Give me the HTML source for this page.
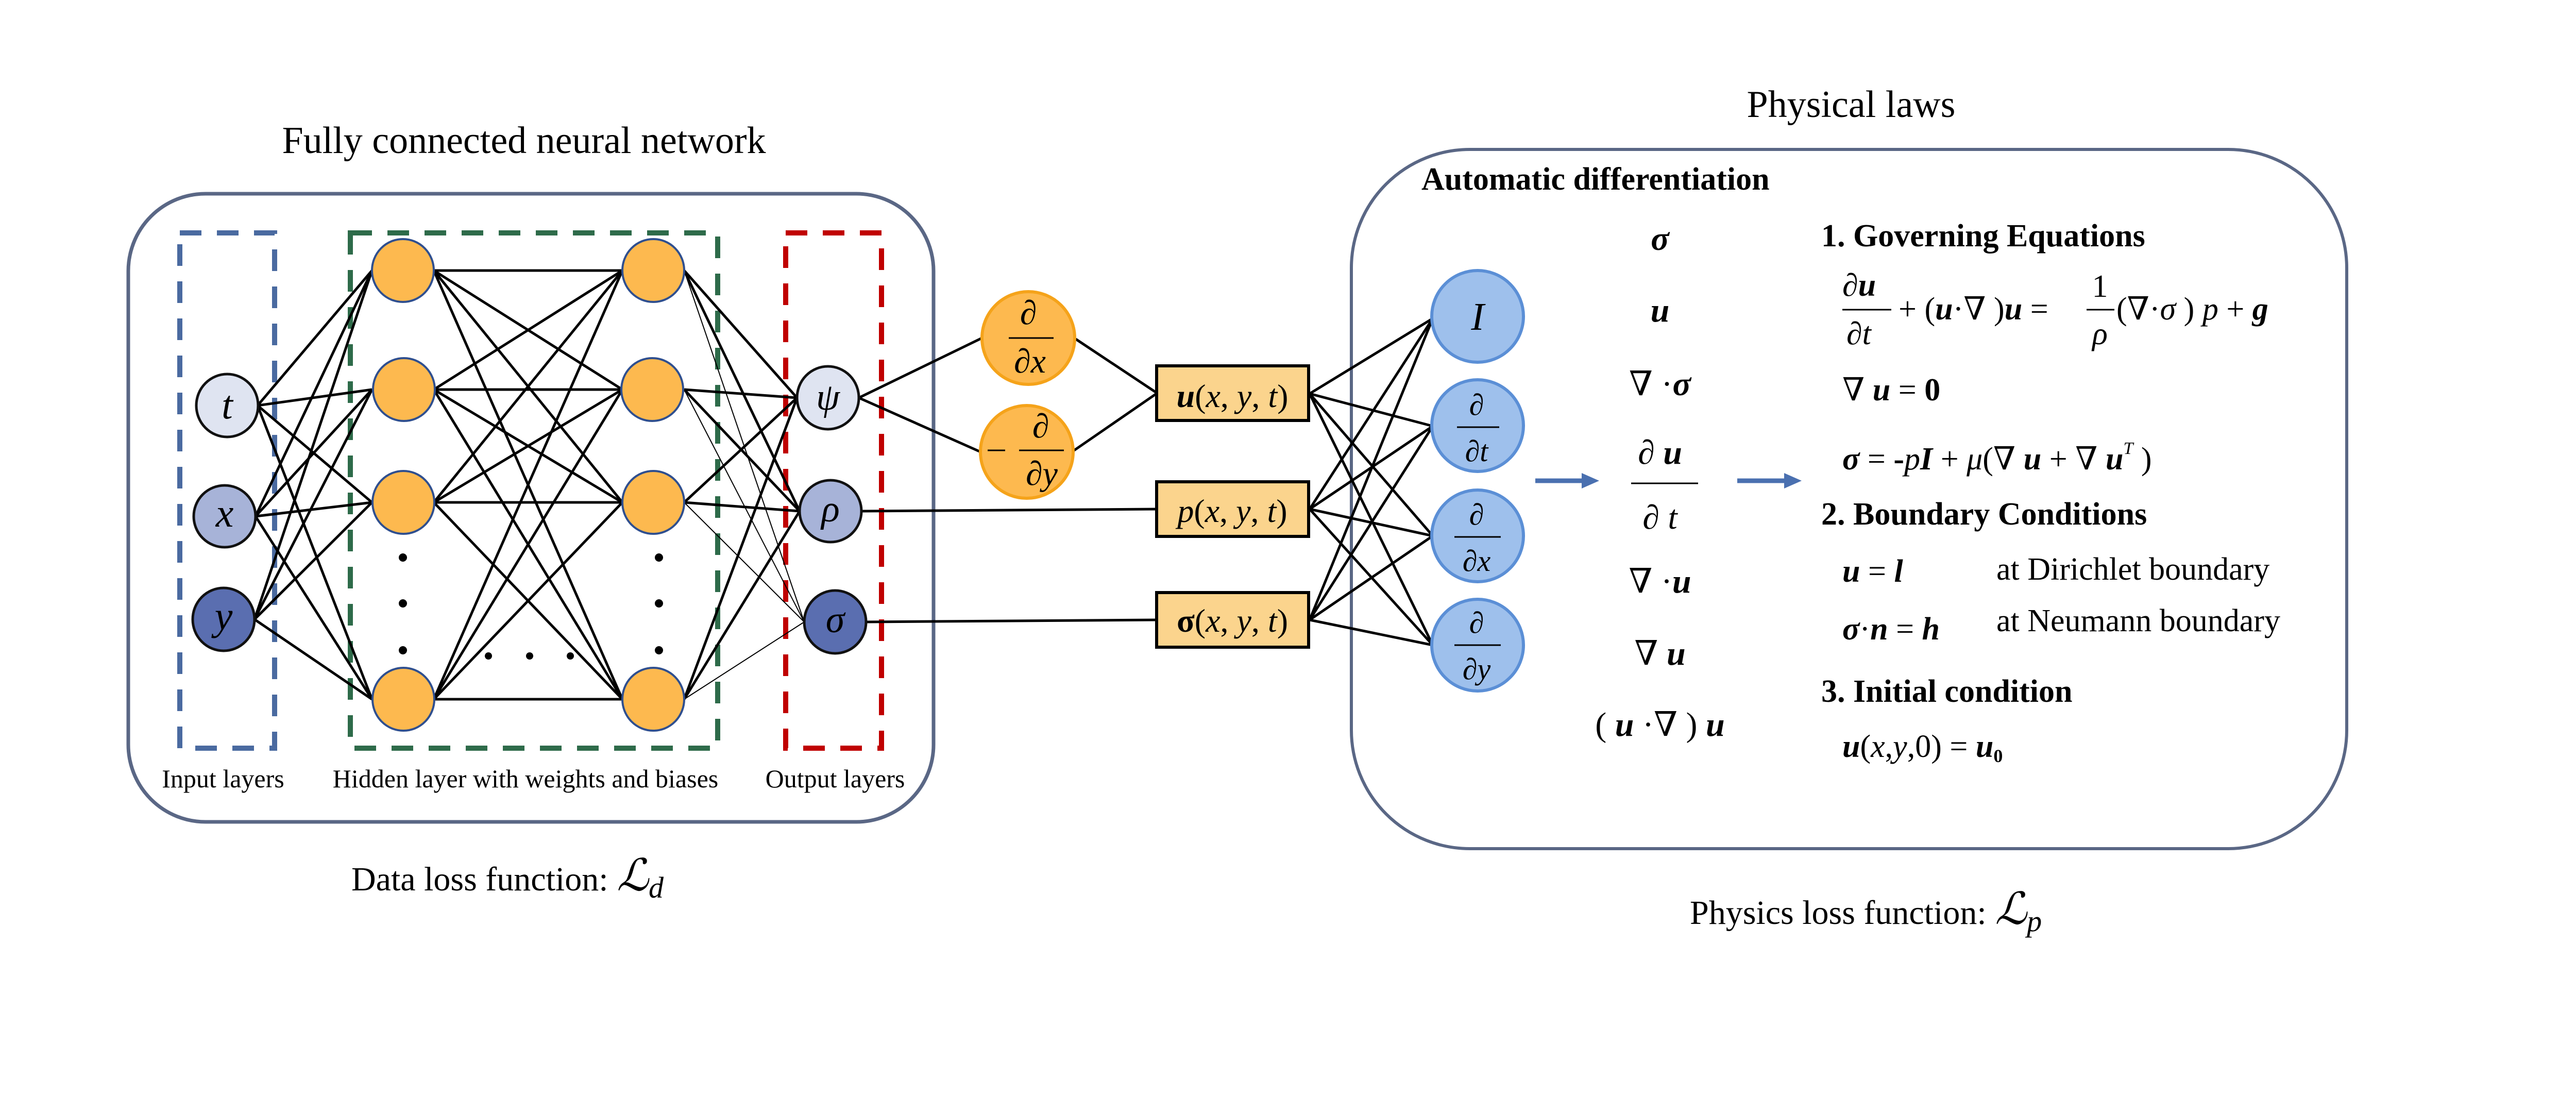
<!DOCTYPE html>
<html><head><meta charset="utf-8">
<style>
html,body{margin:0;padding:0;background:#fff;}
svg{display:block;}
text{font-family:"Liberation Serif","DejaVu Serif",serif;fill:#000;}
.it{font-style:italic;}
.b{font-weight:bold;}
.bi{font-weight:bold;font-style:italic;}
</style></head>
<body>
<svg width="5102" height="2160" viewBox="0 0 5102 2160" xmlns="http://www.w3.org/2000/svg">
<rect width="5102" height="2160" fill="#fff"/>

<!-- Titles -->
<text x="1017" y="297" font-size="74" text-anchor="middle">Fully connected neural network</text>
<text x="3593" y="227" font-size="74" text-anchor="middle">Physical laws</text>

<!-- Left box -->
<rect x="249" y="376" width="1563" height="1219" rx="150" ry="150" fill="none" stroke="#5a6785" stroke-width="7"/>
<!-- Right box -->
<rect x="2623" y="290" width="1932" height="1357" rx="230" ry="230" fill="none" stroke="#5a6785" stroke-width="6"/>

<!-- dashed boxes -->
<rect x="349" y="452" width="184" height="1000" fill="none" stroke="#4a6aa0" stroke-width="10" stroke-dasharray="42,30"/>
<rect x="680" y="452" width="713" height="1000" fill="none" stroke="#2e6b4a" stroke-width="10" stroke-dasharray="42,30"/>
<rect x="1525" y="452" width="186" height="1000" fill="none" stroke="#c00000" stroke-width="10" stroke-dasharray="42,30"/>

<!-- connections input -> hidden1 -->
<g stroke="#000" stroke-width="5">
<line x1="500" y1="787" x2="722" y2="525"/><line x1="500" y1="787" x2="722" y2="756"/><line x1="500" y1="787" x2="722" y2="975"/><line x1="500" y1="787" x2="722" y2="1357"/>
<line x1="496" y1="1002" x2="722" y2="525"/><line x1="496" y1="1002" x2="722" y2="756"/><line x1="496" y1="1002" x2="722" y2="975"/><line x1="496" y1="1002" x2="722" y2="1357"/>
<line x1="494" y1="1202" x2="722" y2="525"/><line x1="494" y1="1202" x2="722" y2="756"/><line x1="494" y1="1202" x2="722" y2="975"/><line x1="494" y1="1202" x2="722" y2="1357"/>
<!-- hidden1 -> hidden2 -->
<line x1="842" y1="525" x2="1208" y2="525"/><line x1="842" y1="525" x2="1208" y2="756"/><line x1="842" y1="525" x2="1208" y2="975"/><line x1="842" y1="525" x2="1208" y2="1357"/>
<line x1="842" y1="756" x2="1208" y2="525"/><line x1="842" y1="756" x2="1208" y2="756"/><line x1="842" y1="756" x2="1208" y2="975"/><line x1="842" y1="756" x2="1208" y2="1357"/>
<line x1="842" y1="975" x2="1208" y2="525"/><line x1="842" y1="975" x2="1208" y2="756"/><line x1="842" y1="975" x2="1208" y2="975"/><line x1="842" y1="975" x2="1208" y2="1357"/>
<line x1="842" y1="1357" x2="1208" y2="525"/><line x1="842" y1="1357" x2="1208" y2="756"/><line x1="842" y1="1357" x2="1208" y2="975"/><line x1="842" y1="1357" x2="1208" y2="1357"/>
<!-- hidden2 -> outputs -->
<line x1="1328" y1="525" x2="1547" y2="772"/><line x1="1328" y1="525" x2="1552" y2="992"/><line x1="1328" y1="525" x2="1561" y2="1207" stroke-width="2"/>
<line x1="1328" y1="756" x2="1547" y2="772"/><line x1="1328" y1="756" x2="1552" y2="992"/><line x1="1328" y1="756" x2="1561" y2="1207" stroke-width="2"/>
<line x1="1328" y1="975" x2="1547" y2="772"/><line x1="1328" y1="975" x2="1552" y2="992"/><line x1="1328" y1="975" x2="1561" y2="1207" stroke-width="2"/>
<line x1="1328" y1="1357" x2="1547" y2="772"/><line x1="1328" y1="1357" x2="1552" y2="992"/><line x1="1328" y1="1357" x2="1561" y2="1207" stroke-width="2"/>
<!-- outputs -> middle -->
<line x1="1667" y1="772" x2="1906" y2="656"/><line x1="1667" y1="772" x2="1901" y2="876"/>
<line x1="2088" y1="658" x2="2246" y2="763"/><line x1="2082" y1="876" x2="2246" y2="763"/>
<line x1="1672" y1="992" x2="2245" y2="988"/>
<line x1="1681" y1="1207" x2="2245" y2="1203"/>
<!-- boxes -> blue circles -->
<line x1="2542" y1="764" x2="2781" y2="618"/><line x1="2542" y1="764" x2="2781" y2="827"/><line x1="2542" y1="764" x2="2781" y2="1040"/><line x1="2542" y1="764" x2="2781" y2="1252"/>
<line x1="2542" y1="988" x2="2781" y2="618"/><line x1="2542" y1="988" x2="2781" y2="827"/><line x1="2542" y1="988" x2="2781" y2="1040"/><line x1="2542" y1="988" x2="2781" y2="1252"/>
<line x1="2542" y1="1203" x2="2781" y2="618"/><line x1="2542" y1="1203" x2="2781" y2="827"/><line x1="2542" y1="1203" x2="2781" y2="1040"/><line x1="2542" y1="1203" x2="2781" y2="1252"/>
</g>

<!-- input nodes -->
<g stroke="#111" stroke-width="5">
<ellipse cx="441" cy="787" rx="60" ry="61" fill="#dfe4f1"/>
<ellipse cx="436" cy="1002" rx="60" ry="60" fill="#a7b3d8"/>
<ellipse cx="434" cy="1202" rx="60" ry="61" fill="#5a6eb0"/>
<ellipse cx="1607" cy="772" rx="60" ry="61" fill="#dfe4f1"/>
<ellipse cx="1612" cy="992" rx="60" ry="60" fill="#a7b3d8"/>
<ellipse cx="1621" cy="1207" rx="60" ry="61" fill="#5a6eb0"/>
</g>
<text x="441" y="812" font-size="78" class="it" text-anchor="middle">t</text>
<text x="436" y="1022" font-size="78" class="it" text-anchor="middle">x</text>
<text x="434" y="1222" font-size="78" class="it" text-anchor="middle">y</text>
<text x="1607" y="795" font-size="74" class="it" text-anchor="middle">ψ</text>
<text x="1612" y="1012" font-size="74" class="it" text-anchor="middle">ρ</text>
<text x="1621" y="1227" font-size="74" class="it" text-anchor="middle">σ</text>

<!-- hidden nodes -->
<g fill="#fdb94f" stroke="#2f4f8f" stroke-width="4">
<ellipse cx="782" cy="525" rx="60" ry="61"/><ellipse cx="784" cy="756" rx="60" ry="61"/><ellipse cx="783" cy="975" rx="60" ry="61"/><ellipse cx="783" cy="1357" rx="60" ry="61"/>
<ellipse cx="1268" cy="525" rx="60" ry="61"/><ellipse cx="1266" cy="756" rx="60" ry="61"/><ellipse cx="1268" cy="975" rx="60" ry="61"/><ellipse cx="1268" cy="1357" rx="60" ry="61"/>
</g>
<g fill="#000">
<circle cx="782" cy="1082" r="8"/><circle cx="782" cy="1171" r="8"/><circle cx="782" cy="1262" r="8"/>
<circle cx="1279" cy="1082" r="8"/><circle cx="1279" cy="1171" r="8"/><circle cx="1279" cy="1262" r="8"/>
<circle cx="948" cy="1273" r="7"/><circle cx="1028" cy="1273" r="7"/><circle cx="1107" cy="1273" r="7"/>
</g>

<!-- layer labels -->
<text x="433" y="1528" font-size="50" text-anchor="middle">Input layers</text>
<text x="1020" y="1528" font-size="50" text-anchor="middle">Hidden layer with weights and biases</text>
<text x="1621" y="1528" font-size="50" text-anchor="middle">Output layers</text>

<!-- orange derivative circles -->
<g fill="#fdb94f" stroke="#f5a31a" stroke-width="6">
<circle cx="1996" cy="656" r="90"/><circle cx="1993" cy="877" r="90"/>
</g>
<g stroke="#000" stroke-width="3">
<line x1="1958" y1="656" x2="2045" y2="656"/>
<line x1="1917" y1="874" x2="1951" y2="874"/>
<line x1="1978" y1="874" x2="2065" y2="874"/>
</g>
<text x="1996" y="629" font-size="66" class="it" text-anchor="middle">∂</text>
<text x="1999" y="723" font-size="66" class="it" text-anchor="middle">∂x</text>
<text x="2020" y="849" font-size="66" class="it" text-anchor="middle">∂</text>
<text x="2022" y="941" font-size="66" class="it" text-anchor="middle">∂y</text>

<!-- function boxes -->
<g fill="#fbd48d" stroke="#000" stroke-width="6">
<rect x="2245" y="710" width="295" height="106"/>
<rect x="2245" y="935" width="295" height="106"/>
<rect x="2245" y="1150" width="295" height="106"/>
</g>
<text x="2392" y="790" font-size="64" text-anchor="middle"><tspan class="bi">u</tspan>(<tspan class="it">x</tspan>, <tspan class="it">y</tspan>, <tspan class="it">t</tspan>)</text>
<text x="2392" y="1013" font-size="64" text-anchor="middle"><tspan class="it">p</tspan>(<tspan class="it">x</tspan>, <tspan class="it">y</tspan>, <tspan class="it">t</tspan>)</text>
<text x="2392" y="1226" font-size="64" text-anchor="middle"><tspan class="b">σ</tspan>(<tspan class="it">x</tspan>, <tspan class="it">y</tspan>, <tspan class="it">t</tspan>)</text>

<!-- blue circles -->
<g fill="#9ec0ec" stroke="#5b8fd6" stroke-width="6">
<circle cx="2868" cy="614" r="89"/><circle cx="2868" cy="826" r="89"/><circle cx="2868" cy="1040" r="89"/><circle cx="2868" cy="1252" r="89"/>
</g>
<g stroke="#000" stroke-width="3">
<line x1="2828" y1="829" x2="2910" y2="829"/>
<line x1="2823" y1="1042" x2="2913" y2="1042"/>
<line x1="2823" y1="1252" x2="2913" y2="1252"/>
</g>
<text x="2868" y="640" font-size="76" class="it" text-anchor="middle">I</text>
<text x="2866" y="805" font-size="58" class="it" text-anchor="middle">∂</text>
<text x="2866" y="895" font-size="58" class="it" text-anchor="middle">∂t</text>
<text x="2866" y="1018" font-size="58" class="it" text-anchor="middle">∂</text>
<text x="2866" y="1108" font-size="58" class="it" text-anchor="middle">∂x</text>
<text x="2866" y="1228" font-size="58" class="it" text-anchor="middle">∂</text>
<text x="2866" y="1318" font-size="58" class="it" text-anchor="middle">∂y</text>

<!-- Autodiff title -->
<text x="2759" y="368" font-size="62" class="b">Automatic differentiation</text>

<!-- middle column -->
<text x="3222" y="485" font-size="66" class="bi" text-anchor="middle">σ</text>
<text x="3222" y="624" font-size="66" class="bi" text-anchor="middle">u</text>
<text x="3222" y="767" font-size="66" text-anchor="middle">∇ ·<tspan class="bi">σ</tspan></text>
<text x="3222" y="900" font-size="66" text-anchor="middle"><tspan class="it">∂</tspan> <tspan class="bi">u</tspan></text>
<line x1="3166" y1="938" x2="3296" y2="938" stroke="#000" stroke-width="3"/>
<text x="3222" y="1026" font-size="66" class="it" text-anchor="middle">∂ t</text>
<text x="3222" y="1150" font-size="66" text-anchor="middle">∇ ·<tspan class="bi">u</tspan></text>
<text x="3222" y="1290" font-size="66" text-anchor="middle">∇  <tspan class="bi">u</tspan></text>
<text x="3222" y="1428" font-size="66" text-anchor="middle">( <tspan class="bi">u</tspan> ·∇ ) <tspan class="bi">u</tspan></text>

<!-- arrows -->
<g fill="#4a70b0" stroke="#4a70b0">
<line x1="2980" y1="933" x2="3075" y2="933" stroke-width="9"/>
<polygon points="3070,918 3104,933 3070,948" stroke="none"/>
<line x1="3372" y1="933" x2="3468" y2="933" stroke-width="9"/>
<polygon points="3463,918 3497,933 3463,948" stroke="none"/>
</g>

<!-- Equations -->
<text x="3535" y="478" font-size="62" class="b">1. Governing Equations</text>
<text x="3576" y="574" font-size="62"><tspan class="it">∂</tspan><tspan class="bi">u</tspan></text>
<line x1="3576" y1="601" x2="3671" y2="601" stroke="#000" stroke-width="3"/>
<text x="3584" y="668" font-size="62" class="it">∂t</text>
<text x="3685" y="620" font-size="62">+ (<tspan class="bi">u</tspan>·∇ )<tspan class="bi">u</tspan> =</text>
<text x="4076" y="576" font-size="62" text-anchor="middle">1</text>
<line x1="4050" y1="601" x2="4104" y2="601" stroke="#000" stroke-width="3"/>
<text x="4076" y="668" font-size="62" class="it" text-anchor="middle">ρ</text>
<text x="4108" y="620" font-size="62">(∇·<tspan class="it">σ</tspan> ) <tspan class="it">p</tspan> + <tspan class="bi">g</tspan></text>

<text x="3576" y="777" font-size="62">∇  <tspan class="bi">u</tspan> = <tspan class="b">0</tspan></text>
<text x="3576" y="911" font-size="62"><tspan class="bi">σ</tspan> = <tspan class="b">-</tspan><tspan class="it">p</tspan><tspan class="bi">I</tspan> + <tspan class="it">μ</tspan>(∇ <tspan class="bi">u</tspan> + ∇ <tspan class="bi">u</tspan><tspan font-size="34" dy="-30" class="it">T</tspan><tspan dy="30"> )</tspan></text>

<text x="3535" y="1018" font-size="62" class="b">2. Boundary Conditions</text>
<text x="3576" y="1129" font-size="62"><tspan class="bi">u</tspan> = <tspan class="bi">l</tspan></text>
<text x="3875" y="1125" font-size="62">at Dirichlet boundary</text>
<text x="3576" y="1241" font-size="62"><tspan class="bi">σ</tspan>·<tspan class="bi">n</tspan> = <tspan class="bi">h</tspan></text>
<text x="3875" y="1225" font-size="62">at Neumann boundary</text>

<text x="3535" y="1362" font-size="62" class="b">3. Initial condition</text>
<text x="3576" y="1469" font-size="62"><tspan class="bi">u</tspan>(<tspan class="it">x</tspan>,<tspan class="it">y</tspan>,0) = <tspan class="bi">u</tspan><tspan font-size="36" dy="10" class="b">0</tspan></text>

<!-- loss functions -->
<text x="682" y="1728" font-size="66">Data loss function:  <tspan class="it" font-size="86">ℒ</tspan><tspan class="it" font-size="58" dy="14">d</tspan></text>
<text x="3280" y="1793" font-size="66">Physics loss function:  <tspan class="it" font-size="86">ℒ</tspan><tspan class="it" font-size="58" dy="14">p</tspan></text>
</svg>
</body></html>
